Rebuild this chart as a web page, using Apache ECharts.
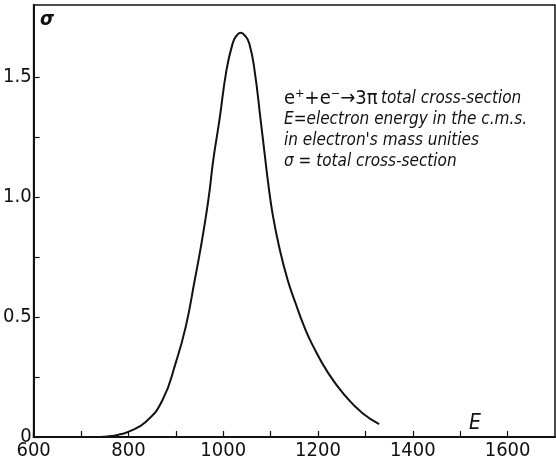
<!DOCTYPE html>
<html>
<head>
<meta charset="utf-8">
<script src="https://cdn.jsdelivr.net/npm/echarts@6/dist/echarts.min.js"></script>
<style>
  html, body { margin: 0; padding: 0; background: #fff; }
  #crossSection { width: 556px; height: 468px; }
</style>
</head>
<body>
<div id="crossSection"></div>
<script>
// energy E (electron mass units) and total cross-section sigma
var energy = [740, 760, 780, 798, 837, 872, 900, 921, 940, 953, 964.5, 971.5, 979, 992, 1007, 1020, 1028, 1037, 1046, 1055, 1066, 1079, 1089, 1094, 1104, 1118, 1136, 1154, 1171, 1188, 1222, 1259, 1294, 1329];
var sigma  = [0, 0.003, 0.01, 0.02, 0.064, 0.154, 0.31, 0.46, 0.654, 0.793, 0.932, 1.03, 1.154, 1.32, 1.53, 1.64, 1.672, 1.684, 1.672, 1.64, 1.53, 1.32, 1.154, 1.071, 0.932, 0.793, 0.654, 0.55, 0.46, 0.385, 0.265, 0.168, 0.099, 0.054];
var xTicks = [600, 700, 800, 900, 1000, 1100, 1200, 1300, 1400, 1500, 1600];
var xTickLabels = [600, 800, 1000, 1200, 1400, 1600];
var yTicks = [0, 0.25, 0.5, 0.75, 1.0, 1.25, 1.5];
var yTickLabels = [0, 0.5, 1.0, 1.5];
var notes = ['E=electron energy in the c.m.s.', "in electron's mass unities", '\u03c3 = total cross-section'];

var font = "'Liberation Sans Narrow', 'DejaVu Sans Condensed', sans-serif";

var myChart = echarts.init(document.getElementById('crossSection'));

var points = [];
for (var i = 0; i < energy.length; i++) {
  points.push([energy[i], sigma[i]]);
}

var option = {
  animation: false,
  backgroundColor: '#fff',
  grid: {
    left: 33, right: 1, top: 5, bottom: 31,
    show: true,
    borderColor: '#111',
    borderWidth: 1.5
  },
  xAxis: {
    type: 'value',
    min: 600, max: 1700,
    axisLine: { lineStyle: { color: '#111', width: 2 } },
    axisTick: { inside: true, length: 6, customValues: xTicks, lineStyle: { color: '#111', width: 1.2 } },
    splitLine: { show: false },
    axisLabel: {
      color: '#111', fontFamily: font, fontSize: 20, margin: 4,
      customValues: xTickLabels,
      formatter: function (v) { return String(v); }
    }
  },
  yAxis: {
    type: 'value',
    min: 0, max: 1.8,
    axisLine: { show: true, lineStyle: { color: '#111', width: 2 } },
    axisTick: { show: true, inside: true, length: 6, customValues: yTicks, lineStyle: { color: '#111', width: 1.2 } },
    splitLine: { show: false },
    axisLabel: {
      color: '#111', fontFamily: font, fontSize: 20, margin: 2,
      customValues: yTickLabels,
      formatter: function (v) {
        return v === 0 ? '0' : v.toFixed(1);
      }
    }
  },
  graphic: [
    {
      type: 'text', left: 40, top: 10,
      style: { text: '\u03c3', font: 'italic bold 20px ' + font, fill: '#111' }
    },
    {
      type: 'text', left: 469, top: 413,
      style: { text: 'E', font: 'italic 21px ' + font, fill: '#111' }
    },
    {
      type: 'text', left: 284, top: 89,
      style: {
        text: '{a|e\u207a+e\u207b\u21923\u03c0} {b|total cross-section}\n{b|' + notes.join('}\n{b|') + '}',
        fill: '#111',
        rich: {
          a: { font: '20px ' + font, fill: '#111', lineHeight: 21 },
          b: { font: 'italic 17px ' + font, fill: '#111', lineHeight: 21 }
        }
      }
    }
  ],
  series: [{
    type: 'line',
    data: points,
    smooth: 0.5,
    showSymbol: false,
    lineStyle: { color: '#111', width: 2 }
  }]
};

myChart.setOption(option);
</script>
</body>
</html>
